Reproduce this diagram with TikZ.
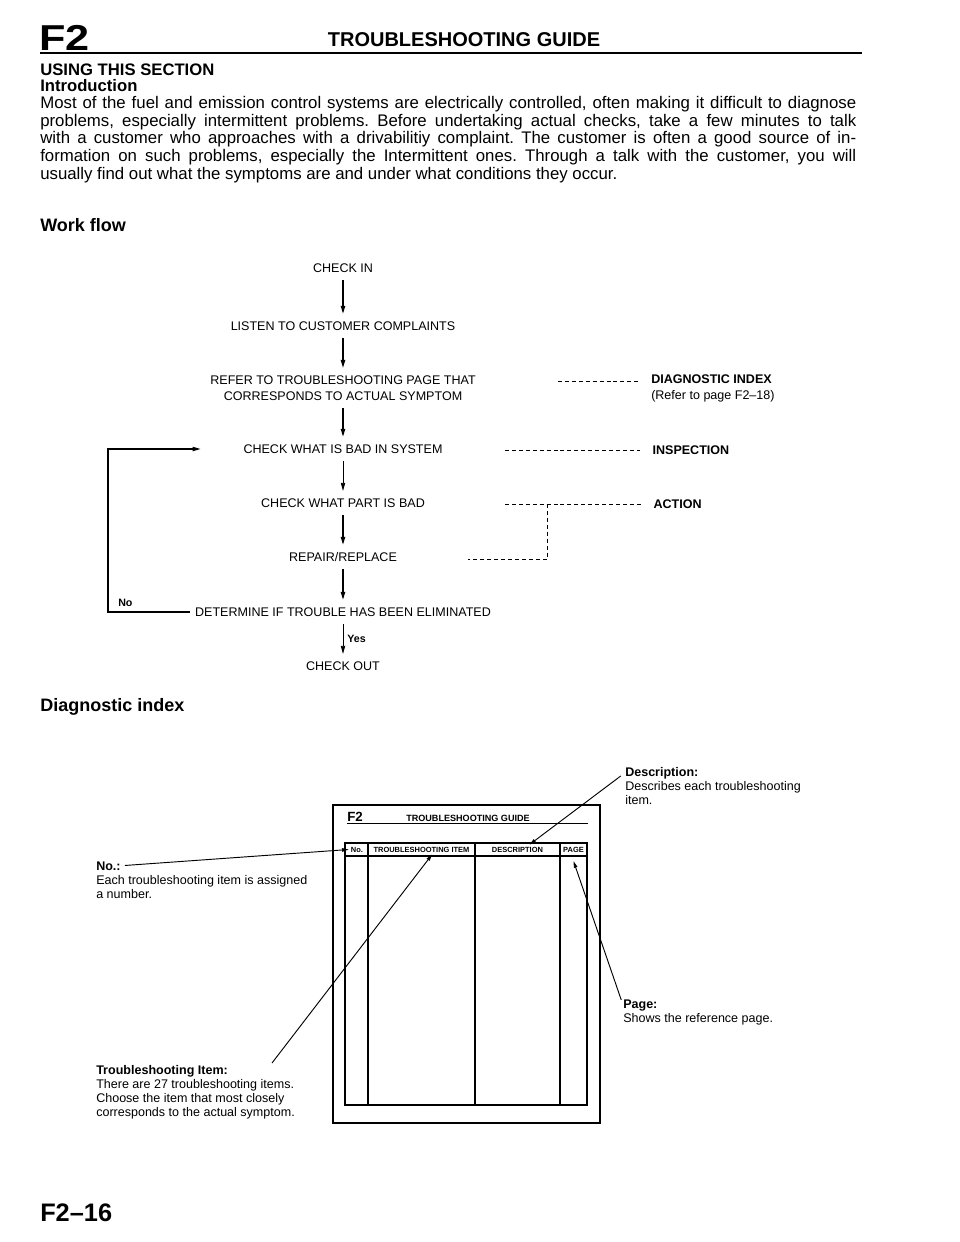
\documentclass[tikz,border=0pt]{standalone}
\usepackage{fontspec}
\setmainfont{Liberation Sans}
\usepackage{tikz}
\usetikzlibrary{arrows.meta,positioning}

\begin{document}
\begin{tikzpicture}[
  x=0.75pt,y=-0.75pt,
  >={Triangle[length=6pt,width=3.2pt]},
  head/.style={anchor=base west,inner sep=0pt,font=\bfseries\fontsize{12.5}{14}\selectfont},
  subhead/.style={head,font=\bfseries\fontsize{13.5}{15}\selectfont},
  flowtext/.style={font=\fontsize{9.4}{12}\selectfont,inner xsep=4pt,inner ysep=5.5pt,align=center},
  stepbox/.style={flowtext,text height=6.8pt,text depth=0pt},
  sidebox/.style={stepbox,anchor=west,font=\bfseries\fontsize{9.4}{12}\selectfont},
  flow/.style={->,line width=1.1pt},
  thinflow/.style={->,line width=0.6pt},
  dashline/.style={dash pattern=on 3pt off 2.2pt,line width=0.6pt},
  hdr/.style={font=\bfseries\fontsize{5.6}{6}\selectfont,inner sep=1.5pt},
  callhead/.style={anchor=base west,inner sep=0pt,font=\bfseries\fontsize{9.4}{10.5}\selectfont},
  callbody/.style={anchor=north west,inner sep=0pt,align=left,font=\fontsize{9.4}{10.5}\selectfont},
  callout/.style={-{Triangle[length=5pt,width=2.6pt]},line width=0.7pt}
]
  \fill[white] (0,0) rectangle (960,1242);

  \node[anchor=base west,inner sep=0pt,font=\bfseries\fontsize{27}{29}\selectfont] (pg) at (39,50) {\scalebox{1.2}[1]{F2}};
  \node[anchor=base,inner sep=0pt,font=\bfseries\fontsize{15}{17}\selectfont] (title) at (464,46) {TROUBLESHOOTING GUIDE};
  \draw[line width=1.5pt] (40,53) -- (862,53);

  \node[head] (using) at (40,75) {USING THIS SECTION};
  \node[head] (intro) at (40,91) {Introduction};
  \node[anchor=north west,inner sep=0pt,text width=612pt,align=justify,font=\fontsize{12.6}{13.3}\selectfont] (para) at (40,96)
    {\frenchspacing Most of the fuel and emission control systems are electrically controlled, often making it difficult to diagnose\linebreak
     problems, especially intermittent problems. Before undertaking actual checks, take a few minutes to talk\linebreak
     with a customer who approaches with a drivabilitiy complaint. The customer is often a good source of in-\linebreak
     formation on such problems, especially the Intermittent ones. Through a talk with the customer, you will\linebreak
     usually find out what the symptoms are and under what conditions they occur.};

  \node[subhead] (wf) at (40,231) {Work flow};

  \node[stepbox] (in) at (343,268) {CHECK IN};
  \node[stepbox] (listen) at (343,326) {LISTEN TO CUSTOMER COMPLAINTS};
  \node[flowtext] (refer) at (343,388) {REFER TO TROUBLESHOOTING PAGE THAT\\CORRESPONDS TO ACTUAL SYMPTOM};
  \node[stepbox] (sys) at (343,449) {CHECK WHAT IS BAD IN SYSTEM};
  \node[stepbox] (part) at (343,503) {CHECK WHAT PART IS BAD};
  \node[stepbox] (repair) at (343,557) {REPAIR/REPLACE};
  \node[stepbox] (det) at (343,612) {DETERMINE IF TROUBLE HAS BEEN ELIMINATED};
  \node[stepbox] (out) at (343,666) {CHECK OUT};

  \draw[flow] (in) -- (listen);
  \draw[flow] (listen) -- (refer);
  \draw[flow] (refer) -- (sys);
  \draw[thinflow] (sys) -- (part);
  \draw[flow] (part) -- (repair);
  \draw[flow] (repair) -- (det);
  \draw[thinflow] (det) -- node[right,inner sep=3pt,font=\bfseries\fontsize{8}{9}\selectfont] (yes) {Yes} (out);

  \coordinate (back) at (108,612);
  \draw[->,line width=0.8pt,shorten >=28pt] (det.west) -- (back) |- (sys.west);
  \node[inner sep=0pt,font=\bfseries\fontsize{8}{9}\selectfont,above right=3.5pt and 7.5pt of back] (no) {No};

  \node[anchor=west,inner sep=0pt,align=left,font=\fontsize{9.4}{11.5}\selectfont] (diag) at (651,388.5)
    {\textbf{DIAGNOSTIC INDEX}\\(Refer to page F2--18)};
  \coordinate (d0) at (558,381);
  \draw[dashline,shorten >=8pt] (d0) -- (d0 -| diag.west);
  \node[sidebox] (insp) at (647,450) {INSPECTION};
  \coordinate (i0) at (505,450);
  \draw[dashline,shorten >=5pt] (i0) -- (insp);
  \node[sidebox] (act) at (648,504) {ACTION};
  \coordinate (a0) at (505,504);
  \draw[dashline,shorten >=4pt] (a0) -- (act);
  \coordinate (a1) at (547,504);
  \coordinate (a2) at (468,559);
  \draw[dashline] (a1) |- (a2);

  \node[subhead] (di) at (40,711) {Diagnostic index};

  \draw[line width=1.6pt] (333,805) rectangle (600,1123);
  \node[anchor=base west,inner sep=0pt,font=\bfseries\fontsize{10}{11}\selectfont] (minipg) at (347,821) {F2};
  \node[anchor=base,inner sep=0pt,font=\bfseries\fontsize{6.8}{8}\selectfont] (minititle) at (468,821) {TROUBLESHOOTING GUIDE};
  \draw[line width=0.8pt] (347,823.5) -- (588,823.5);
  \draw[line width=0.9pt] (345,843) rectangle (587,1105);
  \draw[line width=1.2pt] (345,856) -- (587,856);
  \foreach \cx in {368,475,560}
    \draw[line width=0.8pt] (\cx,843) -- (\cx,1105);
  \node[hdr] (nohdr) at (357,849.5) {No.};
  \node[hdr] (itemhdr) at (421.5,849.5) {TROUBLESHOOTING ITEM};
  \node[hdr] (deschdr) at (517.5,849.5) {DESCRIPTION};
  \node[hdr] (pagehdr) at (573.5,849.5) {PAGE};

  \node[callhead] (notitle) at (96,870) {No.:};
  \node[callbody] (nobody) at ([yshift=-3.15pt]notitle.base west) {\strut Each troubleshooting item is assigned\\a number.};
  \draw[callout,shorten <=3pt] (notitle.east) -- (nohdr.west);

  \node[callhead] (desctitle) at (625,776) {Description:};
  \node[callbody] (descbody) at ([yshift=-3.15pt]desctitle.base west) {\strut Describes each troubleshooting\\item.};
  \draw[callout,shorten <=4pt] (desctitle.west) -- ([xshift=9pt]deschdr.north);

  \node[callhead] (pagetitle) at (623,1008) {Page:};
  \node[callbody] (pagebody) at ([yshift=-3.15pt]pagetitle.base west) {\strut Shows the reference page.};
  \draw[callout,shorten <=4pt] (pagetitle.west) -- ([yshift=-5pt]pagehdr.south);

  \node[callhead] (itemtitle) at (96,1074) {Troubleshooting Item:};
  \node[callbody] (itembody) at ([yshift=-3.15pt]itemtitle.base west) {\strut There are 27 troubleshooting items.\\Choose the item that most closely\\corresponds to the actual symptom.};
  \coordinate (itemfrom) at (272,1063);
  \draw[callout] (itemfrom) -- ([xshift=8pt]itemhdr.south);

  \node[anchor=base west,inner sep=0pt,font=\bfseries\fontsize{19}{21}\selectfont] (foot) at (40,1221) {F2--16};
\end{tikzpicture}
\end{document}
